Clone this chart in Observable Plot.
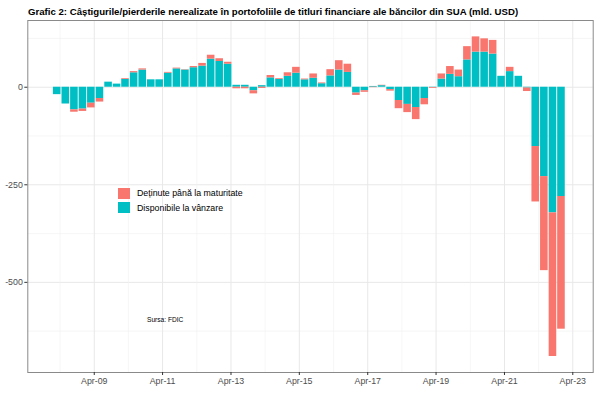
<!DOCTYPE html>
<html>
<head>
<meta charset="utf-8">
<script src="https://cdn.jsdelivr.net/npm/d3@7"></script>
<script src="https://cdn.jsdelivr.net/npm/@observablehq/plot@0.6"></script>
<style>
  html, body { margin: 0; padding: 0; background: #fff; }
  #wrap { position: relative; width: 600px; height: 399px; font-family: "Liberation Sans", Arial, Helvetica, sans-serif; }
  #title { position: absolute; left: 28px; top: 7px; font-weight: bold; font-size: 9.65px; line-height: 1; color: #000; white-space: nowrap; }
  #chart { position: absolute; left: 0; top: 18px; }
  .key { position: absolute; left: 118px; width: 12px; height: 11px; }
  .ltext { position: absolute; left: 137px; font-size: 8.8px; line-height: 1; color: #000; white-space: nowrap; }
  #caption { position: absolute; left: 147px; top: 317px; font-size: 6.6px; line-height: 1; color: #000; }
</style>
</head>
<body>
<div id="wrap">
  <div id="title">Grafic 2: Câștigurile/pierderile nerealizate în portofoliile de titluri financiare ale băncilor din SUA (mld. USD)</div>
  <div id="chart"></div>
  <div id="legend"></div>
  <div id="caption">Sursa: FDIC</div>
</div>
<script>
// ---- data ----
const quarters = [
  "2008Q1","2008Q2","2008Q3","2008Q4","2009Q1","2009Q2","2009Q3","2009Q4",
  "2010Q1","2010Q2","2010Q3","2010Q4","2011Q1","2011Q2","2011Q3","2011Q4",
  "2012Q1","2012Q2","2012Q3","2012Q4","2013Q1","2013Q2","2013Q3","2013Q4",
  "2014Q1","2014Q2","2014Q3","2014Q4","2015Q1","2015Q2","2015Q3","2015Q4",
  "2016Q1","2016Q2","2016Q3","2016Q4","2017Q1","2017Q2","2017Q3","2017Q4",
  "2018Q1","2018Q2","2018Q3","2018Q4","2019Q1","2019Q2","2019Q3","2019Q4",
  "2020Q1","2020Q2","2020Q3","2020Q4","2021Q1","2021Q2","2021Q3","2021Q4",
  "2022Q1","2022Q2","2022Q3","2022Q4"
];
// Disponibile la vânzare (AFS)
const afs = [
  -19, -43, -58, -56, -41, -29, 13, 8,
  20, 37, 44, 19, 19, 36, 47, 44,
  50, 54, 72, 66, 59, 5, 5, -9,
  4, 24, 20, 28, 36, 19, 23, 9,
  29, 44, 38, -15, -9, 2, 4, -6,
  -34, -44, -52, -29, -1, 21, 33, 27,
  70, 90, 90, 85, 28, 40, 28, -2,
  -152, -229, -322, -280
];
// Deținute până la maturitate (HTM)
const htm = [
  0, 0, -6, -6, -12, -9, 0, 0,
  2, 3, 3, 0, 0, 2, 2, 1,
  3, 7, 10, 7, 5, -4, -4, -8,
  -3, 6, 2, 9, 15, 2, 11, 2,
  16, 24, 21, -6, -4, -1, 1, -4,
  -21, -21, -31, -16, -2, 13, 20, 17,
  34, 39, 34, 35, 0, 11, 0, -9,
  -142, -241, -368, -340
];
const seriesNames = ["Deținute până la maturitate", "Disponibile la vânzare"];
const seriesColors = ["#F8766D", "#00BFC4"];
const yMajor = [0, -250, -500];
const yMinor = [125, -125, -375, -625];
const xMajorYears = [2009, 2011, 2013, 2015, 2017, 2019, 2021, 2023];
const xMinorYears = [2008, 2010, 2012, 2014, 2016, 2018, 2020, 2022];

// ---- build ----
const DAY = 86400000;
const qDate = s => { const [y, q] = s.split("Q"); return new Date(Date.UTC(+y, 3 * (+q) - 1, 1)); };
const rows = quarters.flatMap((q, i) => {
  const d = qDate(q);
  return [
    {x1: new Date(+d - 40.5 * DAY), x2: new Date(+d + 40.5 * DAY), series: seriesNames[1], value: afs[i]},
    {x1: new Date(+d - 40.5 * DAY), x2: new Date(+d + 40.5 * DAY), series: seriesNames[0], value: htm[i]}
  ];
});
const aprDate = y => new Date(Date.UTC(y, 3, 1));
const fmt = d3.utcFormat("%b-%y");

const chart = Plot.plot({
  width: 600,
  height: 381,
  marginTop: 2,
  marginBottom: 27,
  marginLeft: 27.3,
  marginRight: 7.3,
  style: {fontFamily: "'Liberation Sans', Arial, Helvetica, sans-serif", fontSize: "8.8px", color: "#4d4d4d", background: "#fff"},
  x: {type: "utc", domain: [new Date(Date.UTC(2007, 3, 22)), new Date(Date.UTC(2023, 10, 5))]},
  y: {domain: [-731, 171]},
  color: {domain: seriesNames, range: seriesColors},
  marks: [
    Plot.ruleY(yMinor, {stroke: "#f0f0f0", strokeWidth: 0.6}),
    Plot.ruleY(yMajor, {stroke: "#e8e8e8", strokeWidth: 1}),
    Plot.ruleX(xMinorYears.map(aprDate), {stroke: "#f0f0f0", strokeWidth: 0.6}),
    Plot.ruleX(xMajorYears.map(aprDate), {stroke: "#e8e8e8", strokeWidth: 1}),
    Plot.rectY(rows, {x1: "x1", x2: "x2", y: "value", fill: "series", order: null}),
    Plot.frame({stroke: "#8a8a8a", strokeWidth: 1}),
    Plot.axisX({ticks: xMajorYears.map(aprDate), tickFormat: fmt, tickSize: 3, tickPadding: 2, label: null, stroke: "#333"}),
    Plot.axisY({ticks: yMajor, tickFormat: d => String(d), tickSize: 3, tickPadding: 2, label: null, stroke: "#333"})
  ]
});
document.getElementById("chart").appendChild(chart);

// legend
const legend = document.getElementById("legend");
const keyTops = [188, 202];
const textTops = [189, 204];
seriesNames.forEach((name, i) => {
  const k = document.createElement("div");
  k.className = "key";
  k.style.top = keyTops[i] + "px";
  k.style.background = seriesColors[i];
  legend.appendChild(k);
  const t = document.createElement("div");
  t.className = "ltext";
  t.style.top = textTops[i] + "px";
  t.textContent = name;
  legend.appendChild(t);
});
</script>
</body>
</html>
